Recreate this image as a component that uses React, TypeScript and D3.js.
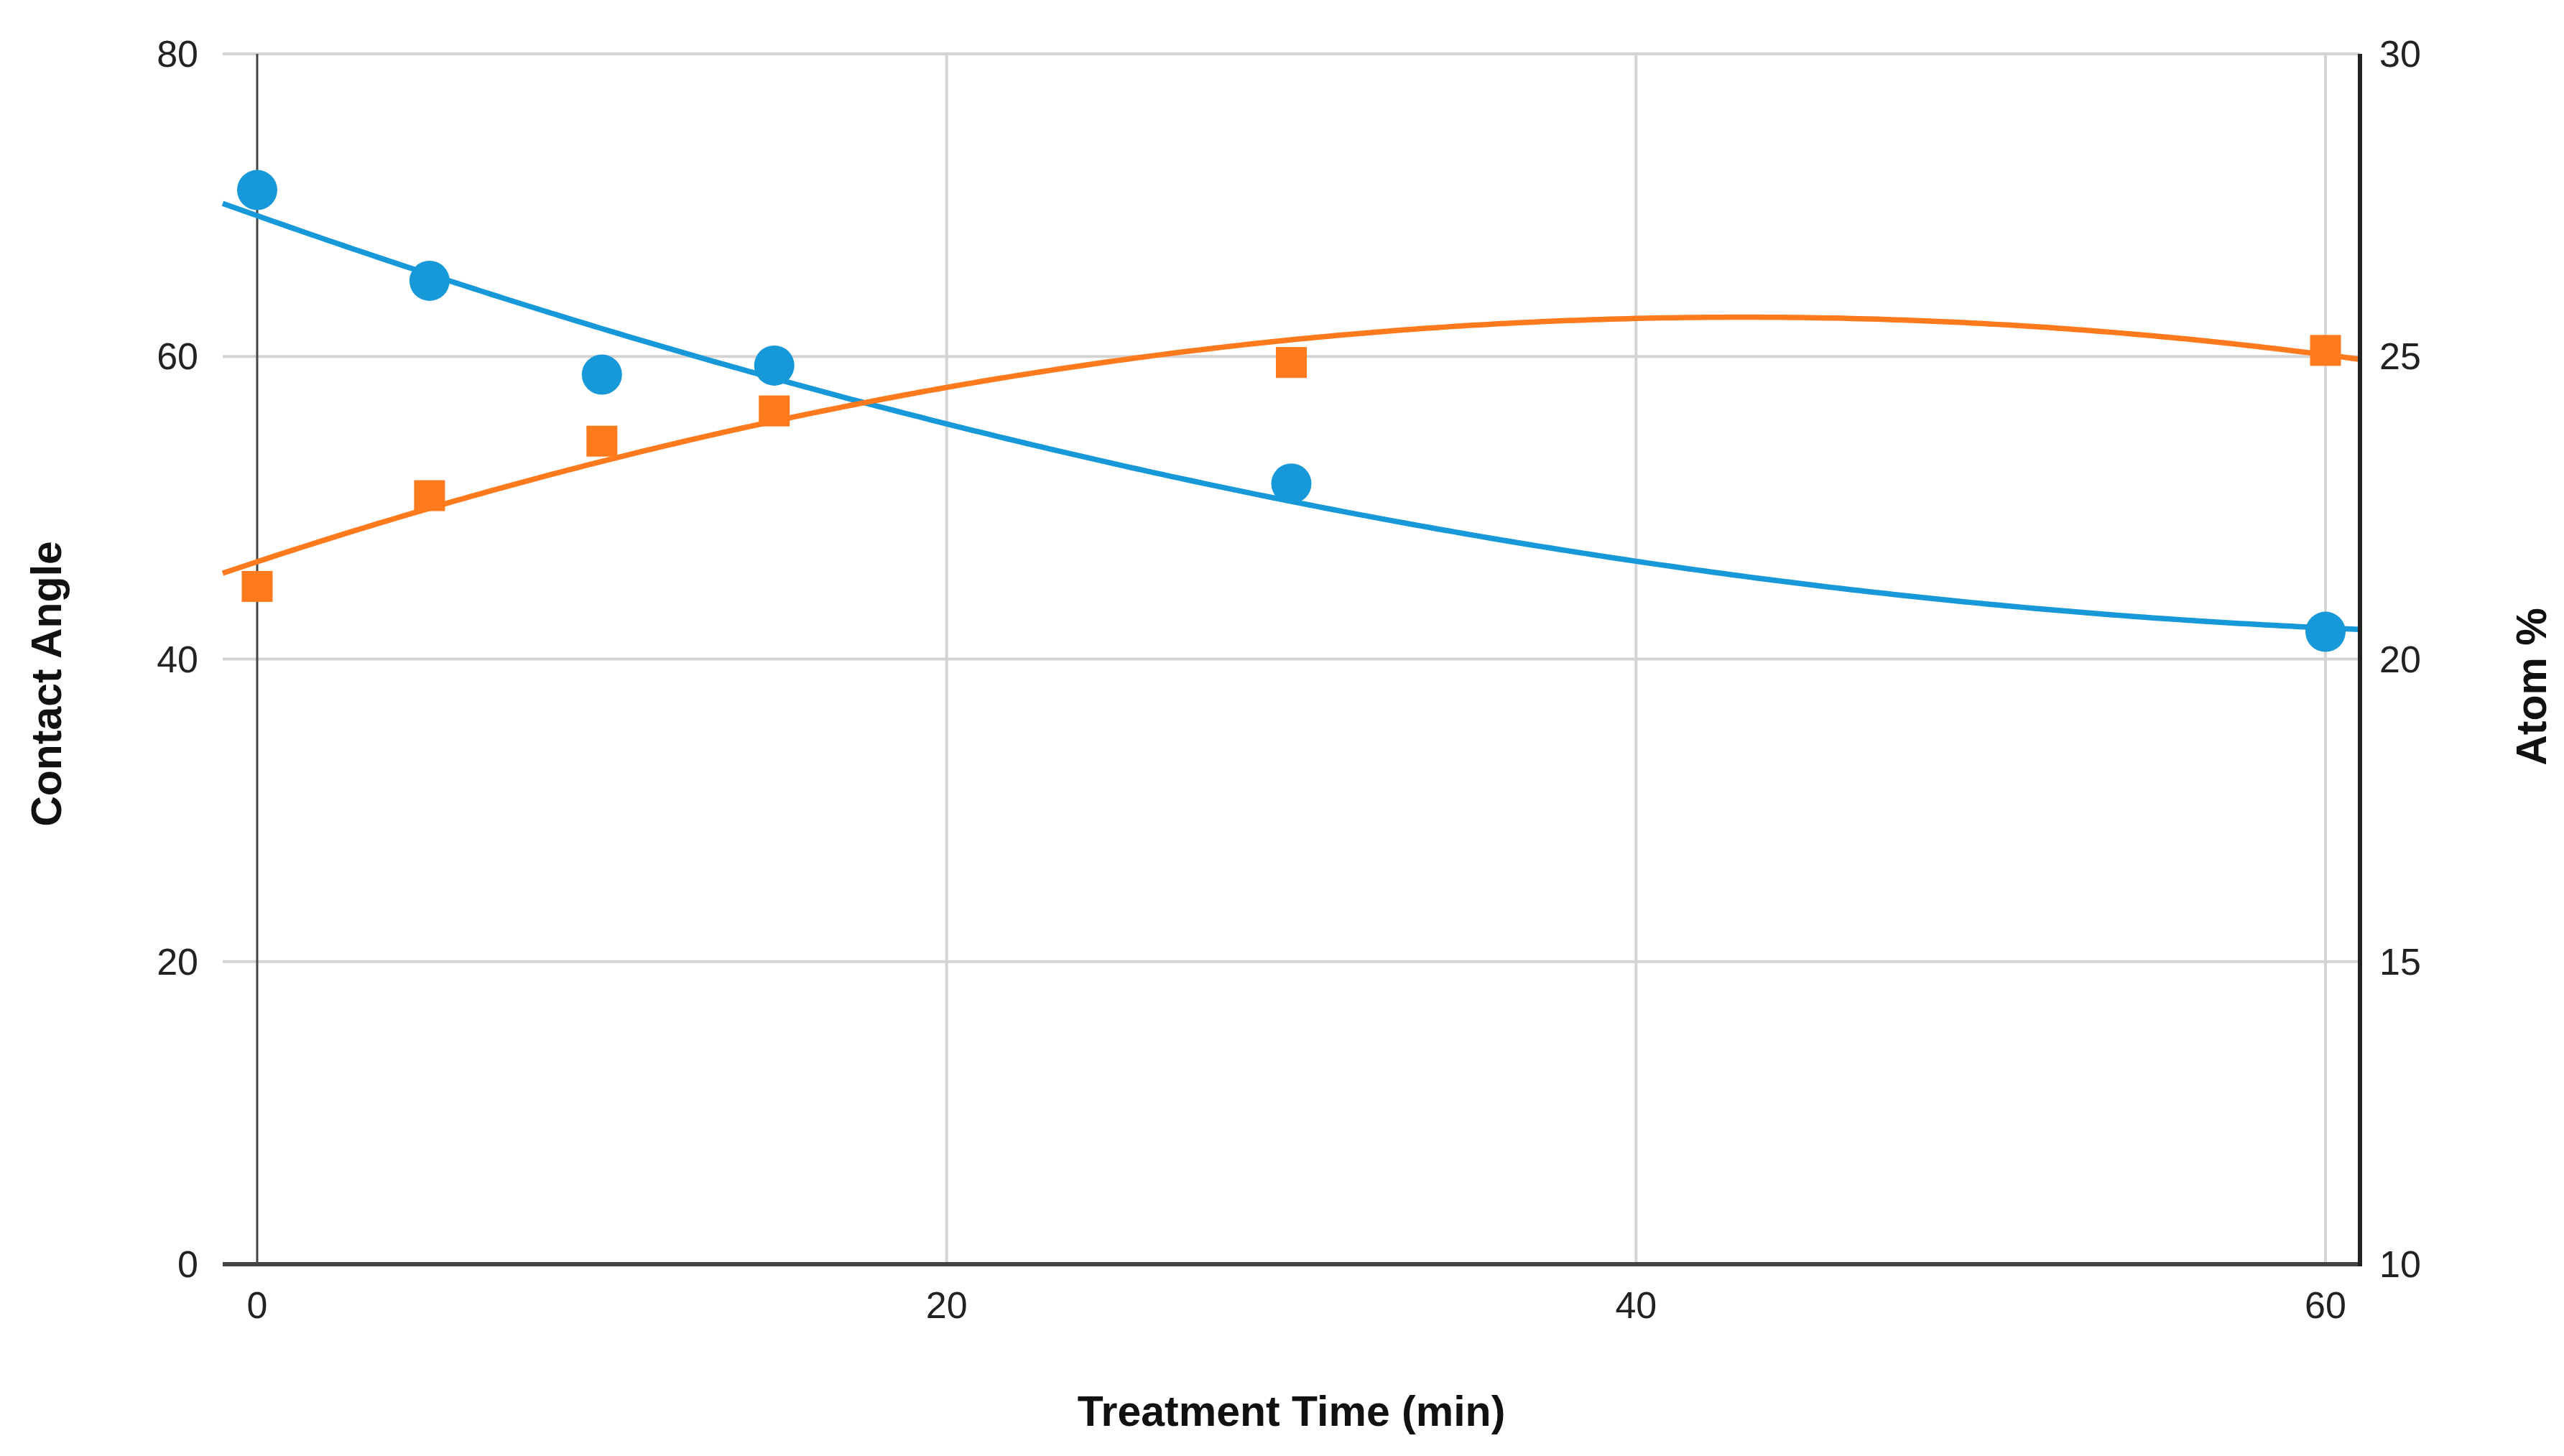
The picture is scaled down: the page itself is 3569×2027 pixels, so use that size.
import React, { useEffect, useRef } from 'react';
import * as d3 from 'd3';

// treatment time (min) and the two measured series
const times = [0, 5, 10, 15, 30, 60];
const contactAngle = [71, 65, 58.8, 59.4, 51.6, 41.8];
const atomPercent = [21.2, 22.7, 23.6, 24.1, 24.9, 25.1];

const xTicks = [0, 20, 40, 60];
const leftTicks = [0, 20, 40, 60, 80];
const rightTicks = [10, 15, 20, 25, 30];

const W = 3569;
const H = 2027;
const margin = { top: 75, right: 284, bottom: 267, left: 310 };

const BLUE = '#1798d8';
const ORANGE = '#ff7a1c';
const FONT = '"Liberation Sans", Arial, sans-serif';

// least squares quadratic trendline
function polyfit2(xs: number[], ys: number[]) {
  const s = [0, 0, 0, 0, 0];
  const t = [0, 0, 0];
  xs.forEach((x, i) => {
    for (let k = 0; k < 5; k++) s[k] += Math.pow(x, k);
    for (let k = 0; k < 3; k++) t[k] += Math.pow(x, k) * ys[i];
  });
  const m = [
    [s[0], s[1], s[2]],
    [s[1], s[2], s[3]],
    [s[2], s[3], s[4]],
  ];
  const det = (a: number[][]) =>
    a[0][0] * (a[1][1] * a[2][2] - a[1][2] * a[2][1]) -
    a[0][1] * (a[1][0] * a[2][2] - a[1][2] * a[2][0]) +
    a[0][2] * (a[1][0] * a[2][1] - a[1][1] * a[2][0]);
  const D = det(m);
  const coef = [0, 1, 2].map(c => {
    const mc = m.map((row, r) => row.map((v, j) => (j === c ? t[r] : v)));
    return det(mc) / D;
  });
  return (x: number) => coef[0] + coef[1] * x + coef[2] * x * x;
}

const App: React.FC = () => {
  const svgRef = useRef<SVGSVGElement>(null);

  useEffect(() => {
    if (!svgRef.current) return;
    const svg = d3.select(svgRef.current);
    svg.selectAll('*').remove();

    const x0 = margin.left;
    const x1 = W - margin.right;
    const y0 = margin.top;
    const y1 = H - margin.bottom;

    const x = d3.scaleLinear().domain([-1, 61]).range([x0, x1]);
    const yL = d3.scaleLinear().domain([0, 80]).range([y1, y0]);
    const yR = d3.scaleLinear().domain([10, 30]).range([y1, y0]);

    const g = svg.append('g');

    // gridlines
    g.selectAll('line.hgrid')
      .data(leftTicks.filter(d => d !== 0))
      .enter().append('line')
      .attr('x1', x0).attr('x2', x1)
      .attr('y1', d => yL(d)).attr('y2', d => yL(d))
      .attr('stroke', '#d4d4d4').attr('stroke-width', 4);

    g.selectAll('line.vgrid')
      .data(xTicks.filter(d => d !== 0))
      .enter().append('line')
      .attr('x1', d => x(d)).attr('x2', d => x(d))
      .attr('y1', y0).attr('y2', y1)
      .attr('stroke', '#d4d4d4').attr('stroke-width', 4);

    // baseline at x = 0
    g.append('line')
      .attr('x1', x(0)).attr('x2', x(0))
      .attr('y1', y0).attr('y2', y1)
      .attr('stroke', '#444').attr('stroke-width', 3);

    // trendlines
    const samples = d3.range(-1, 61.01, 0.25);
    const line = d3.line<[number, number]>().x(d => d[0]).y(d => d[1]);
    const fitA = polyfit2(times, contactAngle);
    const fitB = polyfit2(times, atomPercent);

    g.append('path')
      .attr('d', line(samples.map(t => [x(t), yL(fitA(t))])))
      .attr('fill', 'none').attr('stroke', BLUE).attr('stroke-width', 7.5);
    g.append('path')
      .attr('d', line(samples.map(t => [x(t), yR(fitB(t))])))
      .attr('fill', 'none').attr('stroke', ORANGE).attr('stroke-width', 7.5);

    // points
    const side = 43;
    g.selectAll('rect.pt')
      .data(times)
      .enter().append('rect')
      .attr('x', (d) => x(d) - side / 2)
      .attr('y', (d, i) => yR(atomPercent[i]) - side / 2)
      .attr('width', side).attr('height', side)
      .attr('fill', ORANGE);

    g.selectAll('circle.pt')
      .data(times)
      .enter().append('circle')
      .attr('cx', d => x(d))
      .attr('cy', (d, i) => yL(contactAngle[i]))
      .attr('r', 28)
      .attr('fill', BLUE);

    // axis lines
    g.append('line')
      .attr('x1', x0).attr('x2', x1)
      .attr('y1', y1).attr('y2', y1)
      .attr('stroke', '#444').attr('stroke-width', 6);
    g.append('line')
      .attr('x1', x1).attr('x2', x1)
      .attr('y1', y0).attr('y2', y1 + 3)
      .attr('stroke', '#222').attr('stroke-width', 6);

    // tick labels
    const lbl = svg.append('g')
      .attr('font-family', FONT).attr('font-size', 52).attr('fill', '#222');

    lbl.selectAll('text.l')
      .data(leftTicks)
      .enter().append('text')
      .attr('x', x0 - 34).attr('y', d => yL(d))
      .attr('dy', '0.35em').attr('text-anchor', 'end')
      .text(d => d);

    lbl.selectAll('text.r')
      .data(rightTicks)
      .enter().append('text')
      .attr('x', x1 + 27).attr('y', d => yR(d))
      .attr('dy', '0.35em').attr('text-anchor', 'start')
      .text(d => d);

    lbl.selectAll('text.x')
      .data(xTicks)
      .enter().append('text')
      .attr('x', d => x(d)).attr('y', y1 + 57)
      .attr('dy', '0.35em').attr('text-anchor', 'middle')
      .text(d => d);

    // axis titles
    const titles = svg.append('g')
      .attr('font-family', FONT).attr('font-size', 59)
      .attr('font-weight', 'bold').attr('fill', '#111');

    titles.append('text')
      .attr('x', (x0 + x1) / 2).attr('y', 1964)
      .attr('dy', '0.35em').attr('text-anchor', 'middle')
      .text('Treatment Time (min)');

    titles.append('text')
      .attr('transform', `translate(64, 952) rotate(-90)`)
      .attr('dy', '0.35em').attr('text-anchor', 'middle')
      .text('Contact Angle');

    titles.append('text')
      .attr('transform', `translate(3523, 956) rotate(-90)`)
      .attr('dy', '0.35em').attr('text-anchor', 'middle')
      .text('Atom %');
  }, []);

  return (
    <svg
      ref={svgRef}
      width={W}
      height={H}
      style={{ position: 'absolute', left: 0, top: 0, background: '#fff' }}
    />
  );
};

export default App;
